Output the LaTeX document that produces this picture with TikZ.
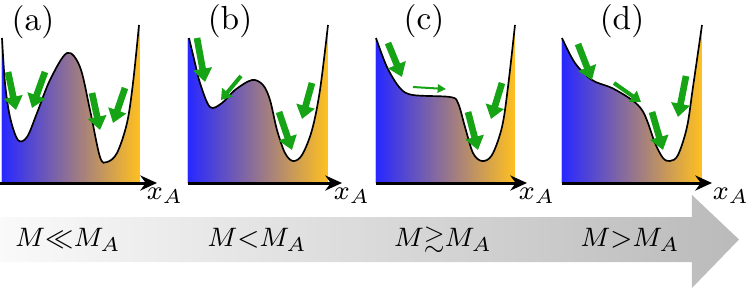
\documentclass[tikz,border=0pt]{standalone}
\usepackage{amsmath}
\usepackage{amssymb}
\usetikzlibrary{arrows.meta}

\definecolor{wellblue}{RGB}{40,40,255}
\definecolor{wellorange}{RGB}{255,192,32}
\definecolor{kick}{RGB}{22,163,22}

\tikzset{
  well/.style={left color=wellblue, right color=wellorange},
  landscape/.style={draw=black, line width=0.5pt},
  axis/.style={line width=0.9pt, -{Stealth[length=5pt,width=4.5pt]}},
  push/.style={draw=kick, line width=2pt, -{Triangle[length=4pt,width=5.5pt]}},
  nudge/.style={draw=kick, line width=1.2pt, -{Triangle[length=3pt,width=4pt]}},
  drift/.style={draw=kick, line width=0.6pt, -{Triangle[length=2.5pt,width=2.5pt]}},
  panel/.style={font=\normalsize},
  coord/.style={font=\footnotesize},
  regime/.style={font=\footnotesize}
}

% the four landscapes
\newcommand\potA{plot[smooth,tension=0.55] coordinates {(2,251) (5,206) (10,172) (18,149) (27,152) (37,176) (50,209) (67,236) (80,222) (90,179) (100,132) (107,127) (117,136) (127,166) (133,206) (139,264)}}
\newcommand\potB{plot[smooth,tension=0.55] coordinates {(189,251) (195,226) (200,206) (210,182) (222,186) (235,199) (252,209) (263,204) (270,189) (277,159) (285,136) (293,128) (302,134) (312,159) (320,199) (328,264)}}
\newcommand\potC{plot[smooth,tension=0.55] coordinates {(376,251) (387,222) (400,201) (413,194) (450,192) (458,186) (465,162) (473,136) (482,128) (492,134) (502,162) (508,202) (515,264)}}
\newcommand\potD{plot[smooth,tension=0.55] coordinates {(562,251) (575,226) (592,209) (612,201) (632,189) (642,179) (648,166) (655,146) (663,131) (670,128) (678,134) (687,162) (693,202) (702,264)}}

\begin{document}
\begin{tikzpicture}[x=0.3pt,y=0.3pt]
\useasboundingbox (0,0) rectangle (747,289);

% big arrow underneath
\shade[left color=black!2, right color=black!27] (0,27) -- (692,27) -- (692,1) -- (739,49.5) -- (692,94) -- (692,72) -- (0,72) -- cycle;
\node[regime] (ra) at (68,49) {$M{\ll}M_A$};
\node[regime] (rb) at (257,49) {$M{<}M_A$};
\node[regime] (rc) at (443,49) {$M{\gtrsim}M_A$};
\node[regime] (rd) at (630,49) {$M{>}M_A$};

% (a)
\fill[well] \potA -- (140,264) -- (140,106) -- (2,106) -- cycle;
\draw[landscape] \potA;
\draw[axis] (0,106) -- (157,106);
\node[coord] (xa) at (165,93) {$x_A$};
\node[panel] (pa) at (33,267) {(a)};
\draw[push] (8,217) -- (16,179);
\draw[push] (45,217) -- (32,181);
\draw[push] (92,196) -- (100,159);
\draw[push] (125,201) -- (113,166);

% (b)
\fill[well] \potB -- (328,106) -- (188,106) -- (188,251) -- cycle;
\draw[landscape] \potB;
\draw[axis] (188,106) -- (342,106);
\node[coord] (xb) at (352,93) {$x_A$};
\node[panel] (pb) at (230,268) {(b)};
\draw[push] (197,251) -- (205,207);
\draw[nudge] (241,213) -- (221,189);
\draw[push] (279,177) -- (292,139);
\draw[push] (312,206) -- (302,170);

% (c)
\fill[well] \potC -- (515,106) -- (376,106) -- cycle;
\draw[landscape] \potC;
\draw[axis] (376,106) -- (527,106);
\node[coord] (xc) at (537,93) {$x_A$};
\node[panel] (pc) at (424,268) {(c)};
\draw[push] (388,246) -- (402,212);
\draw[drift] (413,202) -- (446,200);
\draw[push] (468,177) -- (478,139);
\draw[push] (502,206) -- (491,170);

% (d)
\fill[well] \potD -- (702,106) -- (562,106) -- cycle;
\draw[landscape] \potD;
\draw[axis] (562,106) -- (712,106);
\node[coord] (xd) at (731,93) {$x_A$};
\node[panel] (pd) at (622,268) {(d)};
\draw[push] (578,245) -- (592,209);
\draw[nudge] (614,206) -- (641,187);
\draw[push] (652,177) -- (663,139);
\draw[push] (686,213) -- (678,172);
\end{tikzpicture}
\end{document}
